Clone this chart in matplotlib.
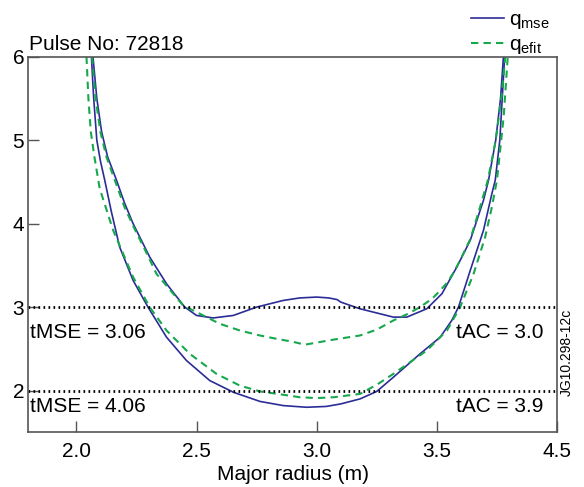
import matplotlib
matplotlib.use('Agg')
import matplotlib.pyplot as plt

plt.rcParams['font.family'] = ['Liberation Sans', 'DejaVu Sans']
plt.rcParams['mathtext.fontset'] = 'custom'
plt.rcParams['mathtext.rm'] = 'Liberation Sans'
plt.rcParams['mathtext.it'] = 'Liberation Sans'

# -------------------- data --------------------
# q_mse, tMSE = 3.06
mse_a_x = [2.069, 2.085, 2.105, 2.13, 2.167, 2.20, 2.236, 2.305, 2.375, 2.451, 2.50, 2.569,
           2.653, 2.75, 2.861, 2.93, 3.0, 3.05, 3.085, 3.10, 3.18, 3.319, 3.375, 3.458,
           3.521, 3.583, 3.639, 3.694, 3.715, 3.745, 3.765, 3.777]
mse_a_y = [6.0, 5.5, 5.1, 4.8, 4.52, 4.25, 4.0, 3.60, 3.28, 3.0, 2.90, 2.87,
           2.90, 3.0, 3.08, 3.11, 3.12, 3.11, 3.09, 3.06, 2.98, 2.88, 2.88, 2.98,
           3.16, 3.48, 3.80, 4.28, 4.52, 5.0, 5.5, 6.0]

# q_mse, tMSE = 4.06
mse_b_x = [2.0625, 2.072, 2.085, 2.10, 2.118, 2.145, 2.18, 2.236, 2.298, 2.375, 2.458,
           2.555, 2.653, 2.764, 2.861, 2.958, 3.04, 3.10, 3.18, 3.25, 3.319, 3.43, 3.514,
           3.562, 3.59, 3.639, 3.694, 3.729, 3.743, 3.762, 3.772, 3.782]
mse_b_y = [6.0, 5.5, 5.0, 4.75, 4.52, 4.15, 3.72, 3.32, 3.0, 2.64, 2.36,
           2.12, 1.98, 1.87, 1.82, 1.80, 1.81, 1.84, 1.90, 1.99, 2.16, 2.44, 2.64,
           2.84, 3.0, 3.44, 3.92, 4.36, 4.52, 5.0, 5.5, 6.0]

# q_efit, tAC = 3.0
efit_a_x = [2.065, 2.08, 2.10, 2.125, 2.16, 2.20, 2.24, 2.29, 2.333, 2.40, 2.444, 2.514,
            2.597, 2.68, 2.764, 2.833, 2.90, 2.951, 3.00, 3.069, 3.18, 3.25, 3.319, 3.38,
            3.43, 3.48, 3.514, 3.545, 3.575, 3.60, 3.64, 3.68, 3.712, 3.745, 3.768, 3.785]
efit_a_y = [6.0, 5.5, 5.1, 4.8, 4.52, 4.2, 3.95, 3.66, 3.40, 3.17, 3.02, 2.92,
            2.80, 2.72, 2.66, 2.62, 2.585, 2.55, 2.575, 2.61, 2.66, 2.73, 2.84, 2.92,
            3.0, 3.10, 3.20, 3.30, 3.44, 3.58, 3.82, 4.2, 4.52, 5.0, 5.5, 6.0]

# q_efit, tAC = 3.9
efit_b_x = [2.042, 2.05, 2.06, 2.075, 2.097, 2.153, 2.236, 2.305, 2.375, 2.472, 2.583,
            2.68, 2.764, 2.861, 2.93, 3.0, 3.07, 3.18, 3.25, 3.319, 3.458, 3.542, 3.597,
            3.653, 3.701, 3.729, 3.75, 3.778, 3.795]
efit_b_y = [6.0, 5.5, 5.1, 4.8, 4.42, 3.92, 3.36, 3.0, 2.72, 2.44, 2.20,
            2.06, 1.99, 1.95, 1.92, 1.91, 1.92, 1.96, 2.07, 2.20, 2.48, 2.72, 3.0,
            3.40, 3.84, 4.20, 4.52, 5.28, 6.0]

ref_levels = [3.0, 2.0]
x_ticks = [2.0, 2.5, 3.0, 3.5, 4.0]
x_tick_labels = ['2.0', '2.5', '3.0', '3.5', '4.5']
y_ticks = [2, 3, 4, 5, 6]

BLUE = '#2b2d96'
GREEN = '#17a84e'

# -------------------- plot --------------------
fig = plt.figure(figsize=(5.84, 4.87), dpi=100)
ax = fig.add_axes([0.0485, 0.1123, 0.9053, 0.7713])

ax.plot(mse_a_x, mse_a_y, color=BLUE, lw=1.2, label=r'q$_{\mathrm{mse}}$')
ax.plot(mse_b_x, mse_b_y, color=BLUE, lw=1.2)
ax.plot(efit_a_x, efit_a_y, color=GREEN, lw=1.5, ls=(0, (3.5, 2.5)), label=r'q$_{\mathrm{efit}}$')
ax.plot(efit_b_x, efit_b_y, color=GREEN, lw=1.5, ls=(0, (3.5, 2.5)))

for lev in ref_levels:
    ax.axhline(lev, color='black', lw=2.0, ls=(0, (0.6, 1.2)))

ax.set_xlim(1.8, 4.0)
ax.set_ylim(1.5, 6.0)
ax.set_xticks(x_ticks)
ax.set_xticklabels(x_tick_labels)
ax.set_yticks(y_ticks)
ax.tick_params(axis='both', direction='in', length=8, width=1, labelsize=15, color='#555555')
ax.tick_params(axis='x', pad=7)
ax.tick_params(axis='y', pad=3)
for s in ax.spines.values():
    s.set_color('#555555')
    s.set_linewidth(1.2)

ax.set_xlabel('Major radius (m)', fontsize=15, labelpad=3)

ax.text(0.002, 1.008, 'Pulse No: 72818', transform=ax.transAxes, fontsize=15,
        ha='left', va='bottom')
ax.text(1.805, 2.69, 'tMSE = 3.06', fontsize=15, ha='left', va='center')
ax.text(3.945, 2.69, 'tAC = 3.0', fontsize=15, ha='right', va='center')
ax.text(1.805, 1.815, 'tMSE = 4.06', fontsize=15, ha='left', va='center')
ax.text(3.945, 1.815, 'tAC = 3.9', fontsize=15, ha='right', va='center')

fig.text(0.971, 0.277, 'JG10.298-12c', rotation=90, fontsize=10, ha='center', va='center')

ax.legend(loc='lower right', bbox_to_anchor=(0.99, 0.995), frameon=False, fontsize=15,
          handlelength=1.55, handletextpad=0.25, labelspacing=0.2, borderpad=0.1,
          borderaxespad=0.0)

fig.savefig('out.png', dpi=100)
